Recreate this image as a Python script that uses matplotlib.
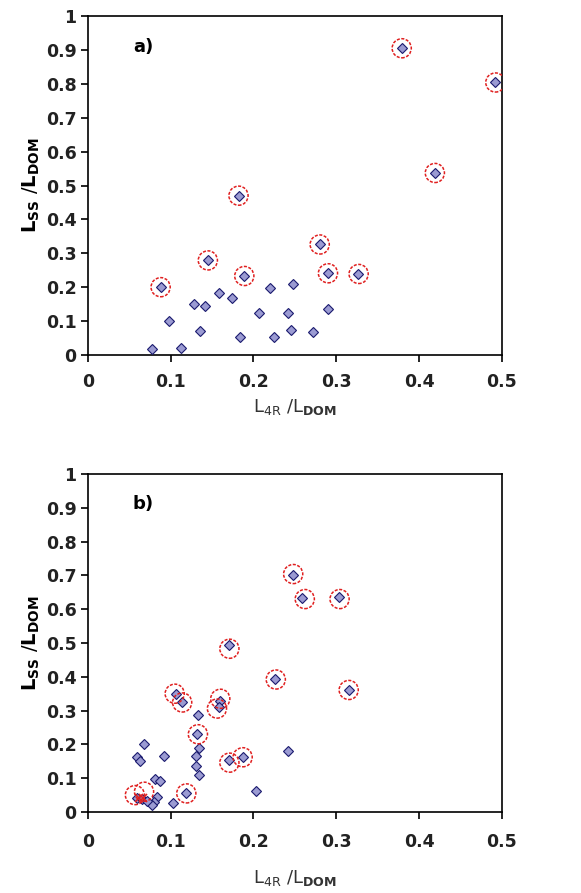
import numpy as np
import matplotlib.pyplot as plt

# panel a) all points
xa = [0.078, 0.088, 0.098, 0.112, 0.128, 0.135, 0.141, 0.145, 0.158, 0.174,
      0.182, 0.184, 0.189, 0.207, 0.220, 0.225, 0.242, 0.245, 0.248, 0.272,
      0.280, 0.290, 0.290, 0.326, 0.379, 0.419, 0.492]
ya = [0.018, 0.200, 0.100, 0.020, 0.149, 0.071, 0.145, 0.279, 0.182, 0.169,
      0.470, 0.054, 0.233, 0.123, 0.199, 0.054, 0.123, 0.074, 0.208, 0.067,
      0.326, 0.241, 0.135, 0.239, 0.905, 0.537, 0.804]
# panel a) circled points
xa_c = [0.088, 0.145, 0.182, 0.189, 0.280, 0.290, 0.327, 0.379, 0.419, 0.492]
ya_c = [0.200, 0.279, 0.470, 0.233, 0.326, 0.241, 0.239, 0.905, 0.537, 0.804]

# panel b) all points
xb = [0.248, 0.259, 0.303, 0.170, 0.226, 0.315, 0.106, 0.114, 0.160, 0.158,
      0.133, 0.132, 0.068, 0.059, 0.063, 0.092, 0.134, 0.131, 0.131, 0.134,
      0.170, 0.187, 0.242, 0.203, 0.081, 0.087, 0.084, 0.080, 0.078, 0.103,
      0.119, 0.059, 0.065, 0.071]
yb = [0.702, 0.633, 0.635, 0.493, 0.394, 0.361, 0.348, 0.326, 0.328, 0.312,
      0.288, 0.231, 0.201, 0.163, 0.150, 0.167, 0.188, 0.167, 0.137, 0.110,
      0.155, 0.162, 0.181, 0.062, 0.098, 0.091, 0.044, 0.029, 0.020, 0.026,
      0.055, 0.041, 0.038, 0.033]
# panel b) circled points
xb_c = [0.248, 0.262, 0.304, 0.171, 0.227, 0.315, 0.105, 0.114, 0.160, 0.156,
        0.133, 0.171, 0.187, 0.119, 0.057, 0.068]
yb_c = [0.704, 0.630, 0.630, 0.483, 0.392, 0.361, 0.350, 0.324, 0.335, 0.306,
        0.230, 0.146, 0.162, 0.055, 0.050, 0.060]
# panel b) red crosses
xb_x = [0.062, 0.067]
yb_x = [0.042, 0.041]

ticks_x = [0, 0.1, 0.2, 0.3, 0.4, 0.5]
ticks_y = np.round(np.arange(0, 1.01, 0.1), 1)
tick_lab_y = ['0'] + ['%.1f' % t for t in ticks_y[1:-1]] + ['1']
tick_lab_x = ['0', '0.1', '0.2', '0.3', '0.4', '0.5']

fig = plt.figure(figsize=(5.81, 8.93), dpi=100)
ax1 = fig.add_axes([0.151, 0.6025, 0.713, 0.3795])
ax2 = fig.add_axes([0.151, 0.0907, 0.713, 0.3785])

def setup(ax, label, xpad, xlabpad):
    ax.set_xlim(0, 0.5)
    ax.set_ylim(0, 1)
    ax.set_xticks(ticks_x)
    ax.set_xticklabels(tick_lab_x)
    ax.set_yticks(ticks_y)
    ax.set_yticklabels(tick_lab_y)
    ax.tick_params(direction='out', length=5, width=1.2, labelsize=12.5, pad=3)
    for lab in ax.get_xticklabels() + ax.get_yticklabels():
        lab.set_fontweight('bold')
        lab.set_color('#222222')
    ax.tick_params(axis='x', pad=xpad)
    for s in ax.spines.values():
        s.set_linewidth(1.2)
    ax.set_xlabel(r'L$_{\mathrm{4R}}$ /L$_{\mathbf{DOM}}$', fontsize=13, labelpad=xlabpad,
                  color='#333333')
    ax.set_ylabel(r'$\mathbf{L_{SS}}$ /$\mathbf{L_{DOM}}$', fontsize=14, labelpad=3)
    ax.text(0.067, 0.91, label, fontsize=13, fontweight='bold', ha='center', va='center')

def pts(ax, x, y):
    ax.plot(x, y, 'D', ms=5.5, mfc='#9b9bd2', mec='#1a1a6e', mew=0.8, ls='none', zorder=3)

def circles(ax, x, y):
    ax.scatter(x, y, s=190, facecolors='none', edgecolors='#e02020', linewidths=1.1,
               linestyles=(0, (2, 1)), zorder=4)

pts(ax1, xa, ya)
circles(ax1, xa_c, ya_c)
setup(ax1, 'a)', 8, 4)

pts(ax2, xb, yb)
circles(ax2, xb_c, yb_c)
ax2.plot(xb_x, yb_x, 'x', ms=6, mec='#e02020', mew=1.2, ls='none', zorder=5)
setup(ax2, 'b)', 10, 12)

fig.savefig('out.png', dpi=100)
